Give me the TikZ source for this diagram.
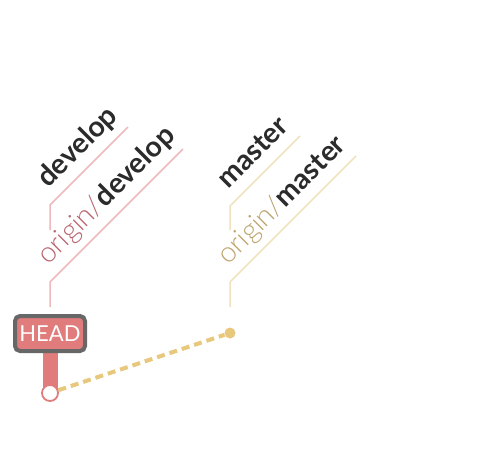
\documentclass[tikz,border=0pt]{standalone}
\usepackage{fontspec}
\setmainfont{Lato}
\newfontfamily\thinfont{Lato Light}
\usetikzlibrary{calc,backgrounds}
\definecolor{headred}{HTML}{E07C7C}
\definecolor{headgray}{HTML}{676767}
\definecolor{devline}{HTML}{EDB9BD}
\definecolor{devtext}{HTML}{B9646E}
\definecolor{mstline}{HTML}{EFE2BF}
\definecolor{msttext}{HTML}{BCA46E}
\definecolor{mstdot}{HTML}{E7C87C}
\definecolor{reftext}{HTML}{2B2B2B}
\begin{document}
\begin{tikzpicture}[x=1pt, y=-1pt,
    commit/.style={circle, draw=headred, line width=1.8pt, fill=white, minimum size=16pt, inner sep=0pt},
    tipdot/.style={circle, fill=mstdot, minimum size=11pt, inner sep=0pt},
    headbox/.style={draw=headgray, line width=4pt, fill=headred, rounded corners=5pt, text=white,
        minimum width=70pt, minimum height=35pt, inner sep=0pt, font=\fontsize{22}{22}\selectfont},
    reflabel/.style={rotate=45, anchor=base west, inner sep=0pt, text=reftext,
        font=\fontsize{28.5}{28.5}\selectfont\bfseries},
    devref/.style={draw=devline, line width=1.5pt},
    mstref/.style={draw=mstline, line width=1.5pt}]
\useasboundingbox (0,0) rectangle (502,448);
% commits
\node[commit] (c1) at (50,393) {};
\node[tipdot] (c2) at (230,333) {};
\node[headbox] (head) at (50,333.5) {HEAD};
\begin{scope}[on background layer]
    \draw[mstdot, line width=4pt, dash pattern=on 8pt off 5pt] (c1) -- (c2);
    \draw[headred, line width=15pt] (head.south) -- (c1.center);
\end{scope}
% develop refs
\coordinate (d1) at (50,230);
\coordinate (d1b) at (50,205);
\coordinate (d1e) at (128,127);
\draw[devref] (d1) -- (d1b) -- (d1e);
\node[reflabel] (l1) at ($(d1b)+(-2,-16)$) {develop};
\coordinate (d2) at (50,307);
\coordinate (d2b) at (50,282);
\coordinate (d2e) at (183,149);
\draw[devref] (d2) -- (d2b) -- (d2e);
\node[reflabel] (l2) at ($(d2b)+(-2,-16)$) {{\thinfont\mdseries\color{devtext}origin/}develop};
% master refs
\coordinate (m1) at (230,230);
\coordinate (m1b) at (230,206);
\coordinate (m1e) at (300,136);
\draw[mstref] (m1) -- (m1b) -- (m1e);
\node[reflabel] (l3) at ($(m1b)+(-2,-16)$) {master};
\coordinate (m2) at (230,307);
\coordinate (m2b) at (230,282);
\coordinate (m2e) at (356,156);
\draw[mstref] (m2) -- (m2b) -- (m2e);
\node[reflabel] (l4) at ($(m2b)+(-2,-16)$) {{\thinfont\mdseries\color{msttext}origin/}master};
\end{tikzpicture}
\end{document}
